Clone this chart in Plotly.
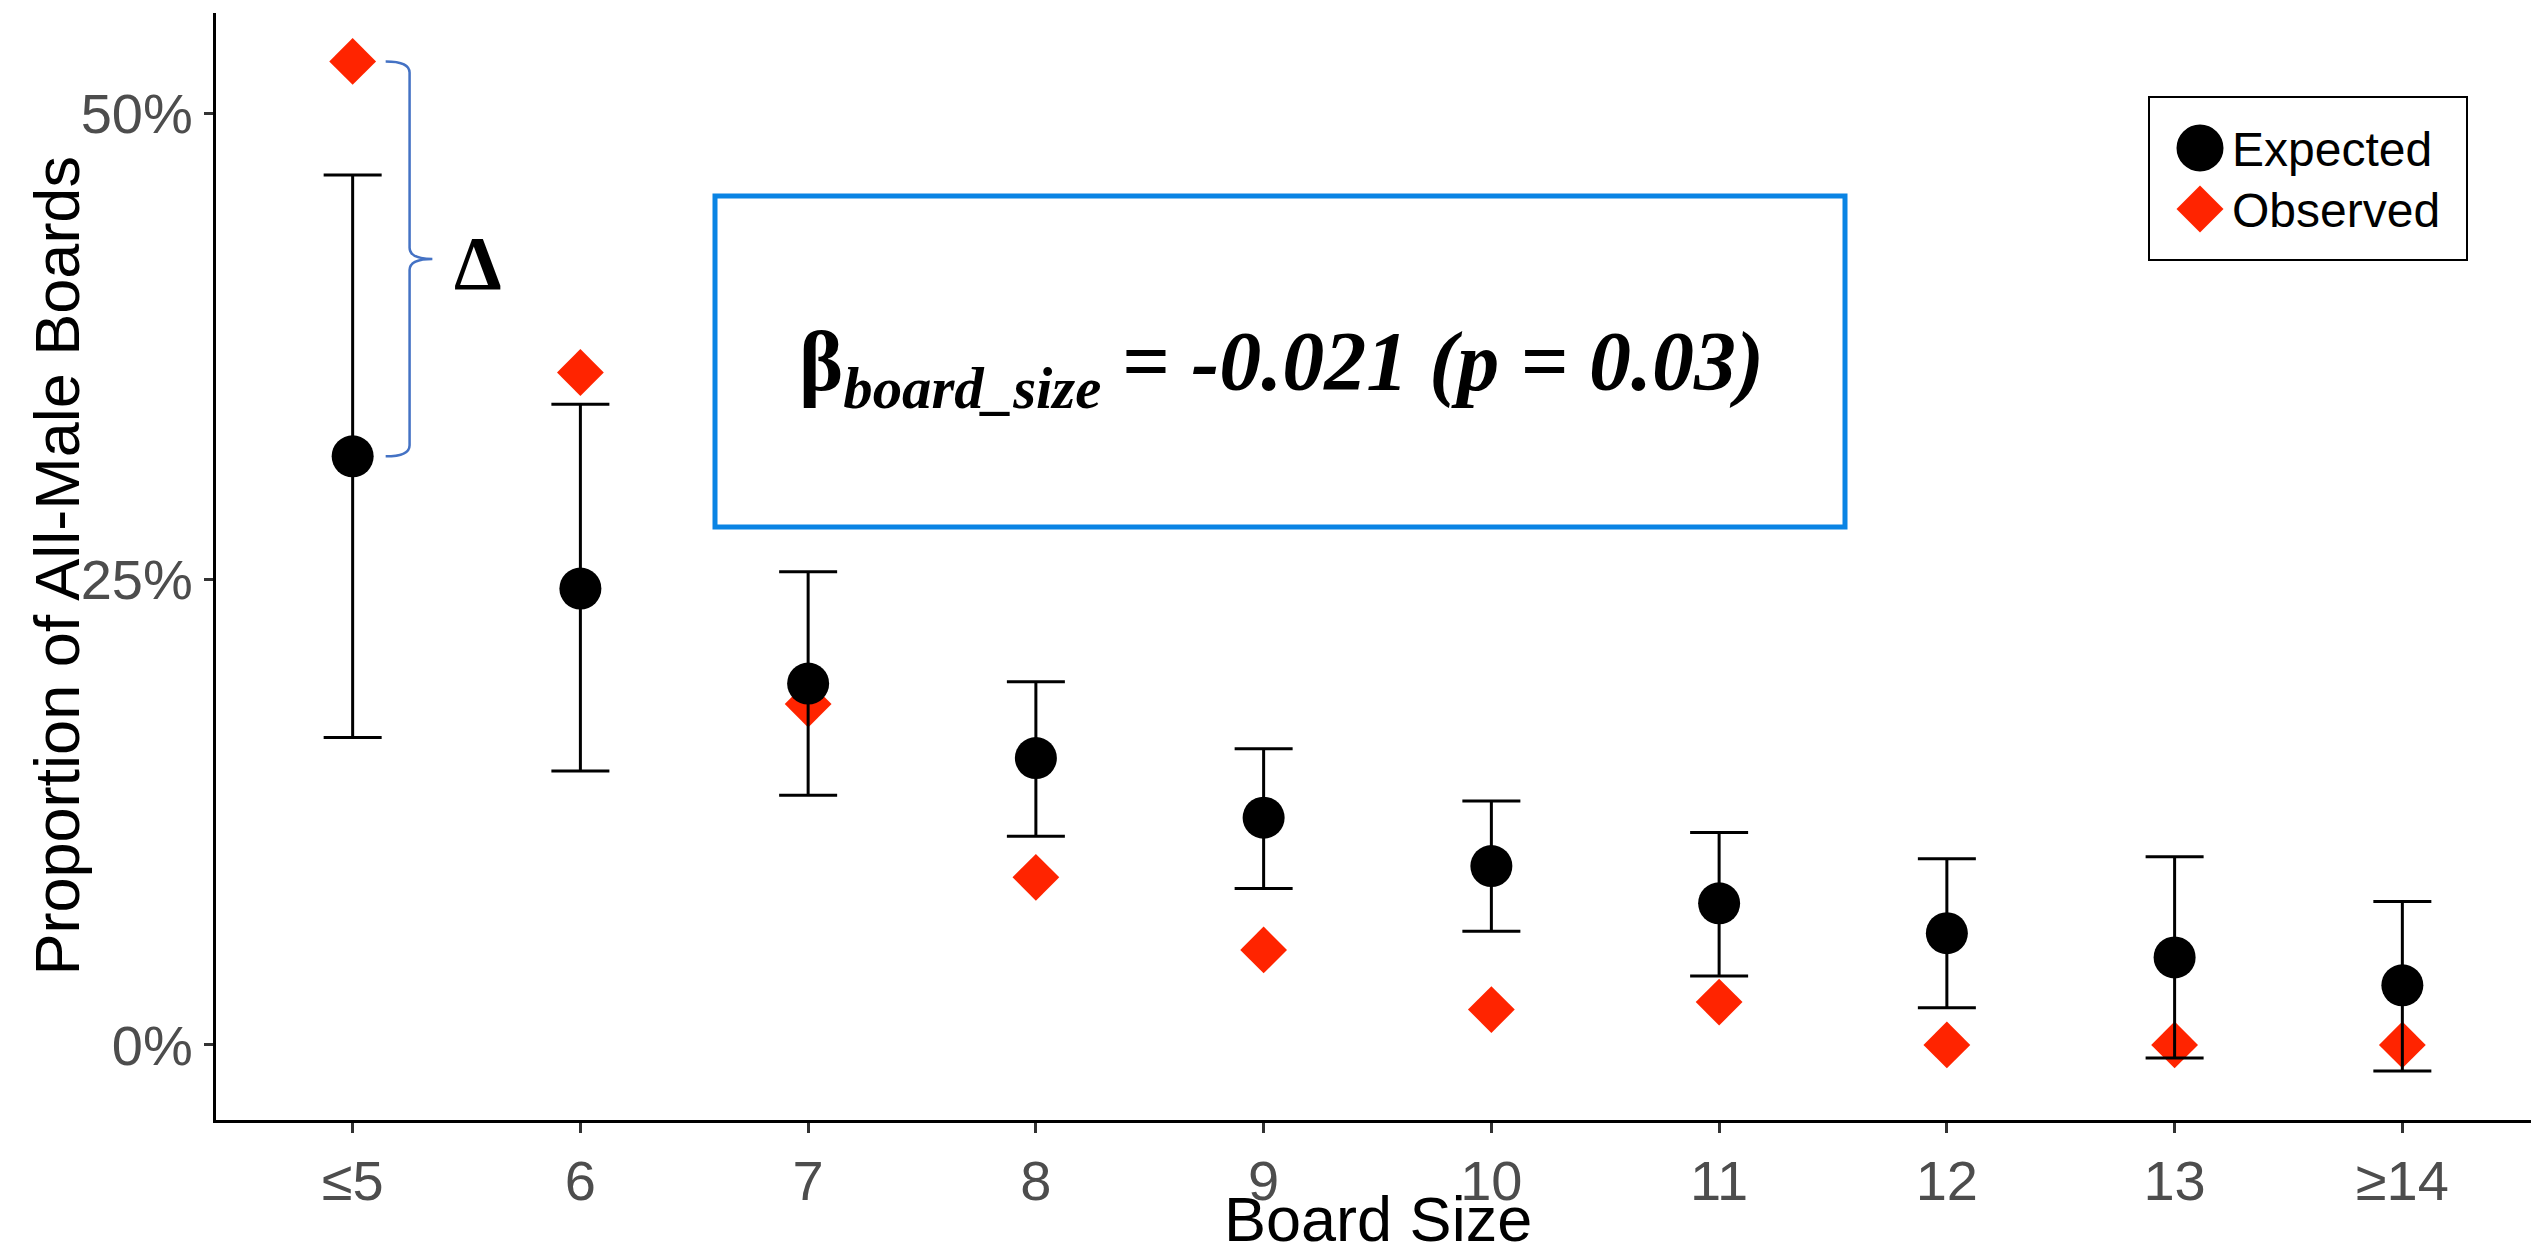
import plotly.graph_objects as go

# ---- data ----
categories = ["≤5", "6", "7", "8", "9", "10", "11", "12", "13", "≥14"]
expected = [0.316, 0.245, 0.194, 0.154, 0.122, 0.096, 0.076, 0.060, 0.047, 0.032]
exp_upper = [0.467, 0.344, 0.254, 0.195, 0.159, 0.131, 0.114, 0.100, 0.101, 0.077]
exp_lower = [0.165, 0.147, 0.134, 0.112, 0.084, 0.061, 0.037, 0.020, -0.007, -0.014]
observed = [0.528, 0.361, 0.183, 0.090, 0.051, 0.019, 0.023, 0.0, 0.0, 0.0]
y_ticks = [0, 0.25, 0.5]

xpos = list(range(len(categories)))
err_plus = [u - e for u, e in zip(exp_upper, expected)]
err_minus = [e - l for e, l in zip(expected, exp_lower)]

RED = "#FF2400"
BLUE_BOX = "#0A84E4"
BLUE_BRACE = "#4472C4"
SANS = "Liberation Sans, Arial, sans-serif"
SERIF = "Liberation Serif, Times New Roman, serif"

PAGE_W, PAGE_H = 2539, 1253
OFF = 8  # default body margin of the html page
W, H = PAGE_W - OFF, PAGE_H - OFF
# plot area in page pixels
L, R, T, B = 216, 2539, 13, 1120


def px(x):
    return (x - L) / (R - L)


def py(y):
    return (B - y) / (B - T)


fig = go.Figure()

fig.add_trace(go.Scatter(
    x=xpos, y=observed, mode="markers", name="Observed",
    marker=dict(symbol="diamond", size=36, color=RED),
    showlegend=False,
))
fig.add_trace(go.Scatter(
    x=xpos, y=expected, mode="markers", name="Expected",
    marker=dict(symbol="circle", size=42, color="black"),
    error_y=dict(type="data", array=err_plus, arrayminus=err_minus,
                 color="black", thickness=3, width=29),
    showlegend=False,
))

shapes = []
# brace between observed and expected at first category
x0 = xpos[0]
yt, yb = observed[0], expected[0]
ym = (yt + yb) / 2
d = 0.006
xs, xl, xt = x0 + 0.145, x0 + 0.25, x0 + 0.35
path = (f"M {xs},{yt} Q {xl},{yt} {xl},{yt - d} L {xl},{ym + d} "
        f"Q {xl},{ym} {xt},{ym} Q {xl},{ym} {xl},{ym - d} "
        f"L {xl},{yb + d} Q {xl},{yb} {xs},{yb}")
shapes.append(dict(type="path", path=path, xref="x", yref="y",
                   line=dict(color=BLUE_BRACE, width=2.5)))

# blue box
shapes.append(dict(type="rect", xref="paper", yref="paper",
                   x0=px(715), x1=px(1845), y0=py(527), y1=py(196),
                   line=dict(color=BLUE_BOX, width=5), fillcolor="rgba(0,0,0,0)"))

# legend box and keys
shapes.append(dict(type="rect", xref="paper", yref="paper",
                   x0=px(2149), x1=px(2467), y0=py(260), y1=py(97),
                   line=dict(color="black", width=2), fillcolor="white"))
cx, cy, r = 2200, 148, 23.5
shapes.append(dict(type="circle", xref="paper", yref="paper",
                   x0=px(cx - r), x1=px(cx + r), y0=py(cy + r), y1=py(cy - r),
                   line=dict(width=0), fillcolor="black"))
dx, dy, rd = 2200, 209, 23.5
shapes.append(dict(type="path", xref="paper", yref="paper",
                   path=(f"M {px(dx - rd)},{py(dy)} L {px(dx)},{py(dy - rd)} "
                         f"L {px(dx + rd)},{py(dy)} L {px(dx)},{py(dy + rd)} Z"),
                   line=dict(width=0), fillcolor=RED))

annotations = [
    dict(x=px(2230), y=py(149), xref="paper", yref="paper", text="Expected",
         showarrow=False, xanchor="left", yanchor="middle",
         font=dict(family=SANS, size=48, color="black")),
    dict(x=px(2230), y=py(210), xref="paper", yref="paper", text="Observed",
         showarrow=False, xanchor="left", yanchor="middle",
         font=dict(family=SANS, size=48, color="black")),
    dict(x=x0 + 0.55, y=ym, xref="x", yref="y", text="<b>Δ</b>",
         showarrow=False, xanchor="center", yanchor="middle", yshift=-4,
         font=dict(family=SERIF, size=76, color="black")),
    dict(x=px(1281), y=py(368), xref="paper", yref="paper",
         text="<b>β<sub><i>board_size</i></sub> = <i>-0.021 (p = 0.03)</i></b>",
         showarrow=False, xanchor="center", yanchor="middle",
         font=dict(family=SERIF, size=84, color="black")),
    # axis titles
    dict(x=0.5, y=py(1219), xref="paper", yref="paper", text="Board Size",
         showarrow=False, xanchor="center", yanchor="middle",
         font=dict(family=SANS, size=63, color="black")),
    dict(x=px(56), y=0.5, xref="paper", yref="paper",
         text="Proportion of All-Male Boards", textangle=-90,
         showarrow=False, xanchor="center", yanchor="middle",
         font=dict(family=SANS, size=63, color="black")),
]

fig.update_layout(
    width=W, height=H,
    margin=dict(l=L - OFF, r=PAGE_W - R, t=T - OFF, b=PAGE_H - B, pad=0, autoexpand=False),
    paper_bgcolor="white", plot_bgcolor="white",
    shapes=shapes, annotations=annotations,
    showlegend=False,
    xaxis=dict(
        range=[-0.6, 9.6], tickmode="array", tickvals=xpos, ticktext=categories,
        showline=True, linecolor="black", linewidth=3,
        ticks="outside", ticklen=10, tickwidth=3, tickcolor="#333333",
        showgrid=False, zeroline=False, automargin=False,
        tickfont=dict(family=SANS, size=56, color="#4D4D4D"),
    ),
    yaxis=dict(
        range=[-0.0403, 0.554], tickmode="array", tickvals=y_ticks, tickformat=".0%",
        showline=True, linecolor="black", linewidth=3,
        ticks="outside", ticklen=9, tickwidth=3, tickcolor="#333333",
        showgrid=False, zeroline=False, automargin=False,
        tickfont=dict(family=SANS, size=56, color="#4D4D4D"),
    ),
)

fig.write_html("out.html")
